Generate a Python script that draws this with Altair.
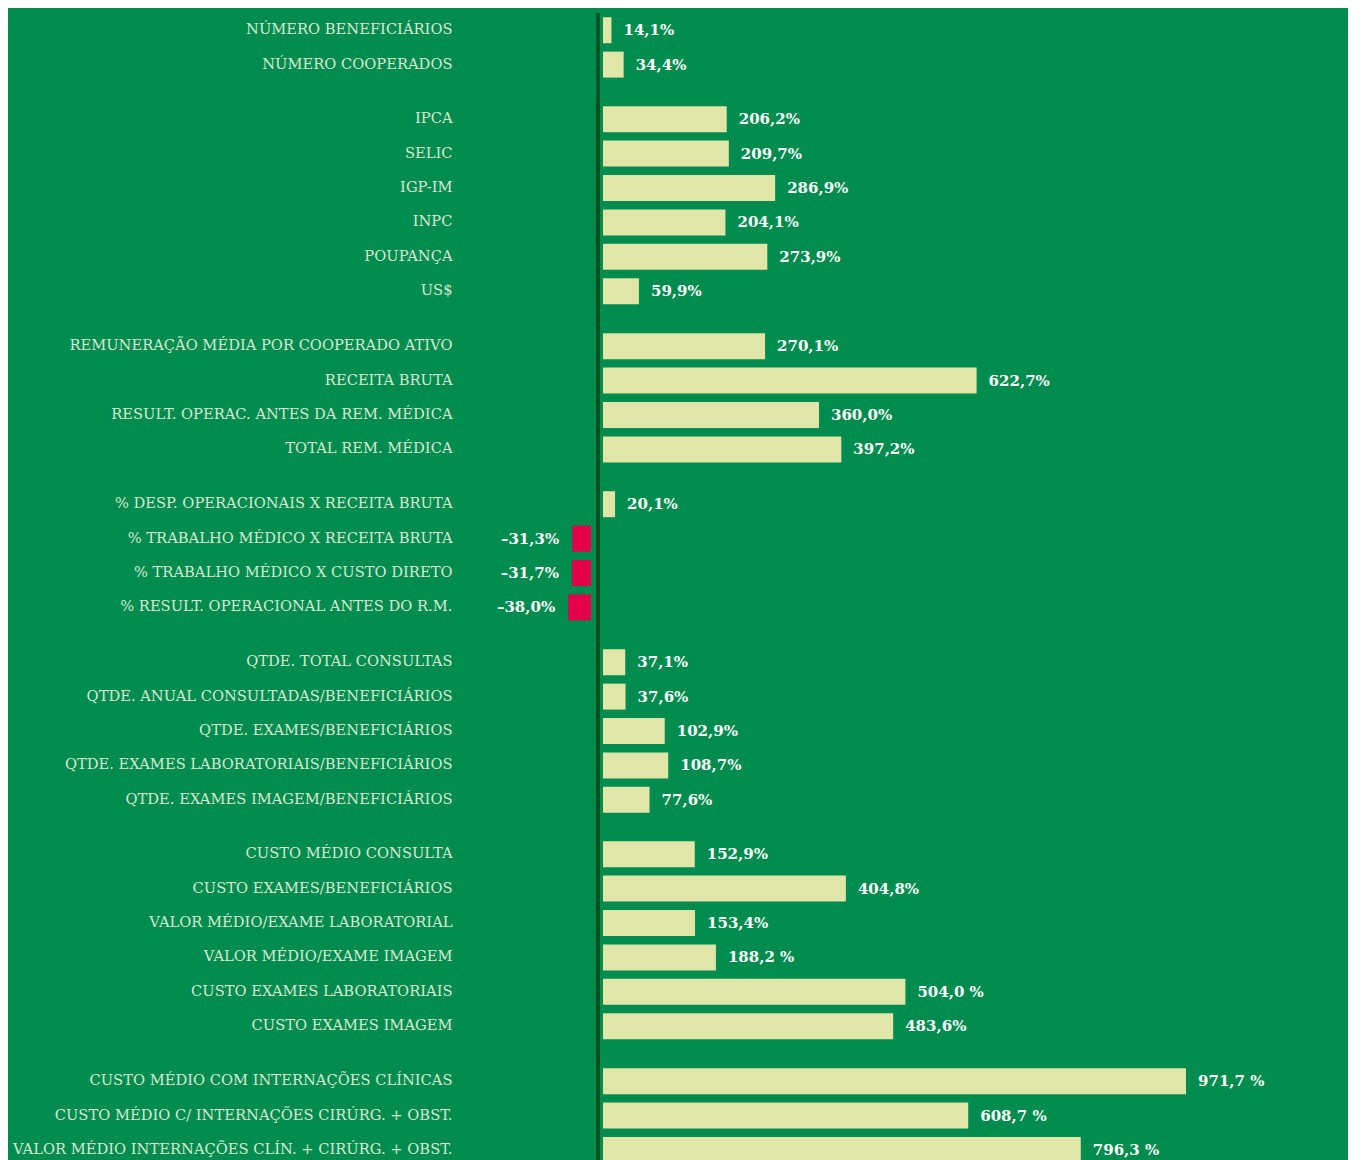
import altair as alt
import pandas as pd

groups = [1, 1,
          2, 2, 2, 2, 2, 2,
          3, 3, 3, 3,
          4, 4, 4, 4,
          5, 5, 5, 5, 5,
          6, 6, 6, 6, 6, 6,
          7, 7, 7]

categories = [
    "NÚMERO BENEFICIÁRIOS", "NÚMERO COOPERADOS",
    "IPCA", "SELIC", "IGP-IM", "INPC", "POUPANÇA", "US$",
    "REMUNERAÇÃO MÉDIA POR COOPERADO ATIVO", "RECEITA BRUTA",
    "RESULT. OPERAC. ANTES DA REM. MÉDICA", "TOTAL REM. MÉDICA",
    "% DESP. OPERACIONAIS X RECEITA BRUTA", "% TRABALHO MÉDICO X RECEITA BRUTA",
    "% TRABALHO MÉDICO X CUSTO DIRETO", "% RESULT. OPERACIONAL ANTES DO R.M.",
    "QTDE. TOTAL CONSULTAS", "QTDE. ANUAL CONSULTADAS/BENEFICIÁRIOS",
    "QTDE. EXAMES/BENEFICIÁRIOS", "QTDE. EXAMES LABORATORIAIS/BENEFICIÁRIOS",
    "QTDE. EXAMES IMAGEM/BENEFICIÁRIOS",
    "CUSTO MÉDIO CONSULTA", "CUSTO EXAMES/BENEFICIÁRIOS",
    "VALOR MÉDIO/EXAME LABORATORIAL", "VALOR MÉDIO/EXAME IMAGEM",
    "CUSTO EXAMES LABORATORIAIS", "CUSTO EXAMES IMAGEM",
    "CUSTO MÉDIO COM INTERNAÇÕES CLÍNICAS",
    "CUSTO MÉDIO C/ INTERNAÇÕES CIRÚRG. + OBST.",
    "VALOR MÉDIO INTERNAÇÕES CLÍN. + CIRÚRG. + OBST.",
]

values = [14.1, 34.4,
          206.2, 209.7, 286.9, 204.1, 273.9, 59.9,
          270.1, 622.7, 360.0, 397.2,
          20.1, -31.3, -31.7, -38.0,
          37.1, 37.6, 102.9, 108.7, 77.6,
          152.9, 404.8, 153.4, 188.2, 504.0, 483.6,
          971.7, 608.7, 796.3]

value_labels = ["14,1%", "34,4%",
                "206,2%", "209,7%", "286,9%", "204,1%", "273,9%", "59,9%",
                "270,1%", "622,7%", "360,0%", "397,2%",
                "20,1%", "–31,3%", "–31,7%", "–38,0%",
                "37,1%", "37,6%", "102,9%", "108,7%", "77,6%",
                "152,9%", "404,8%", "153,4%", "188,2 %", "504,0 %", "483,6%",
                "971,7 %", "608,7 %", "796,3 %"]

df = pd.DataFrame({
    "group": groups,
    "idx": list(range(len(categories))),
    "cat": categories,
    "value": values,
    "lbl": value_labels,
})

BG = "#008B4F"
BAR = "#E0E6A8"
NEG = "#E4004A"
LINE = "#00501F"
GAP = 20

xscale = alt.Scale(domain=[-200, 1250], nice=False, zero=False)
y = alt.Y("cat:N", sort=alt.EncodingSortField("idx"), title=None,
          axis=alt.Axis(ticks=False, domain=False, labelFont="DejaVu Serif",
                        labelFontSize=14.7, labelColor="#D6EBD2", labelPadding=26,
                        labelLimit=700))

pos = alt.datum.value >= 0
neg = alt.datum.value < 0

bars_pos = alt.Chart().transform_filter(pos).mark_bar(
    size=26, color=BAR, xOffset=5, x2Offset=5
).encode(x=alt.X("value:Q", scale=xscale, axis=None), x2=alt.datum(0), y=y)

bars_neg = alt.Chart().transform_filter(neg).mark_bar(
    size=26, color=NEG, xOffset=-7, x2Offset=-7
).encode(x=alt.X("value:Q", scale=xscale, axis=None), x2=alt.datum(0), y=y)

txt_pos = alt.Chart().transform_filter(pos).mark_text(
    align="left", baseline="middle", dx=17, font="DejaVu Serif",
    fontWeight="bold", fontSize=15, color="white"
).encode(x=alt.X("value:Q", scale=xscale, axis=None), y=y, text="lbl:N")

txt_neg = alt.Chart().transform_filter(neg).mark_text(
    align="right", baseline="middle", dx=-20, font="DejaVu Serif",
    fontWeight="bold", fontSize=15, color="white"
).encode(x=alt.X("value:Q", scale=xscale, axis=None), y=y, text="lbl:N")

rule = alt.Chart().mark_rule(color=LINE, strokeWidth=3, y2Offset=GAP).encode(
    x=alt.X("z:Q", scale=xscale, axis=None),
    y=alt.value(0),
    y2=alt.value("height"),
).transform_calculate(z="0")

layer = alt.layer(rule, bars_pos, bars_neg, txt_pos, txt_neg, data=df).properties(
    width=870, height=alt.Step(34.4)
)

chart = layer.facet(
    row=alt.Row("group:O", title=None, header=alt.Header(labels=False, title=None)),
    spacing=GAP,
    bounds="flush",
).resolve_scale(y="independent").properties(
    padding={"top": 3, "left": 4, "right": 0, "bottom": 0}
).configure(background=BG).configure_view(stroke=None)

chart.save("out.html", embed_options={"renderer": "svg", "actions": False})
